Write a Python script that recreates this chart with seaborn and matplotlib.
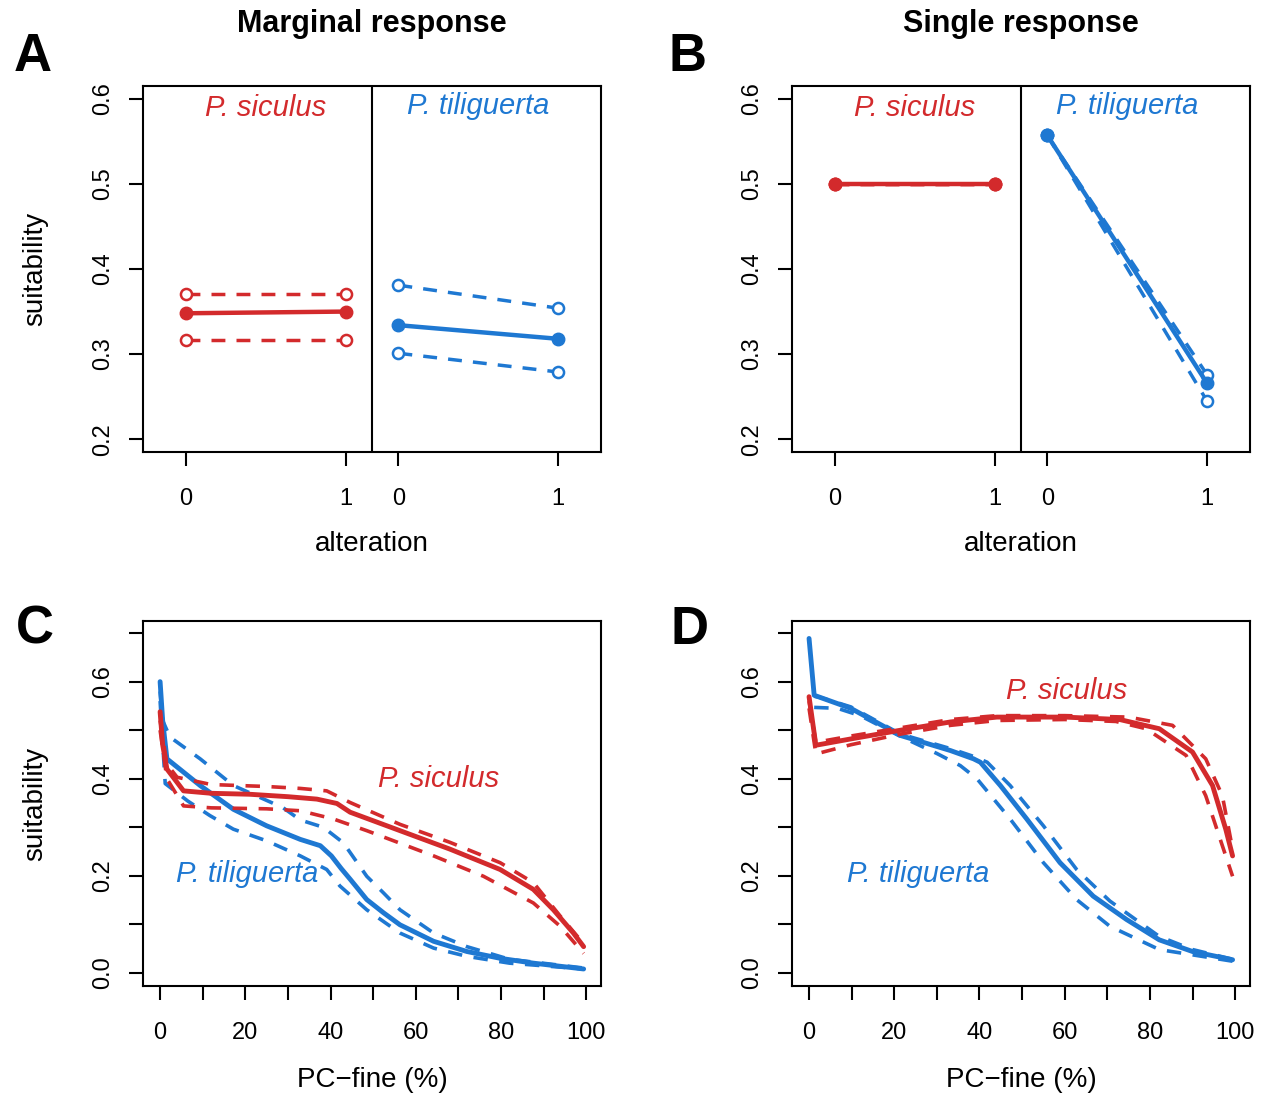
import numpy as np
import pandas as pd
import matplotlib
matplotlib.use('Agg')
import matplotlib.pyplot as plt
import seaborn as sns

sns.set_style('ticks')
plt.rcParams['font.family'] = ['Liberation Sans', 'DejaVu Sans']
plt.rcParams['text.color'] = 'black'
plt.rcParams['axes.labelcolor'] = 'black'
plt.rcParams['xtick.color'] = 'black'
plt.rcParams['ytick.color'] = 'black'

RED = '#D32A2C'
BLUE = '#1E78D2'
species = ['P. siculus', 'P. tiliguerta']
palette = {'P. siculus': RED, 'P. tiliguerta': BLUE}

# ---- panels A / B : alteration 0 -> 1 ----
alteration = [0, 1]
marg_sic_mean = [0.348, 0.350]
marg_sic_upper = [0.371, 0.371]
marg_sic_lower = [0.317, 0.317]
marg_til_mean = [0.334, 0.318]
marg_til_upper = [0.381, 0.354]
marg_til_lower = [0.301, 0.279]

single_sic_mean = [0.500, 0.500]
single_sic_upper = [0.500, 0.500]
single_sic_lower = [0.500, 0.500]
single_til_mean = [0.557, 0.266]
single_til_upper = [0.557, 0.276]
single_til_lower = [0.557, 0.245]

alt_ticks = [0, 1, 0, 1]
suit_ticks_ab = [0.2, 0.3, 0.4, 0.5, 0.6]

# ---- panel C : marginal response vs PC-fine ----
c_sic_mean_x = [0, 0.6, 1.6, 5.5, 12, 21, 30, 36.8, 41.5, 44.6, 56.3, 68, 79.8, 87.6, 92.3, 97, 99.4]
c_sic_mean_y = [0.538, 0.47, 0.420, 0.375, 0.370, 0.368, 0.363, 0.358, 0.349, 0.331, 0.293, 0.255, 0.213, 0.172, 0.130, 0.082, 0.054]
c_sic_upper_x = [0, 1.6, 4, 12, 25, 32.9, 39.1, 44.6, 56.3, 68, 79.8, 87.6, 93.9, 99.4]
c_sic_upper_y = [0.52, 0.43, 0.403, 0.388, 0.384, 0.380, 0.375, 0.351, 0.306, 0.269, 0.227, 0.186, 0.117, 0.060]
c_sic_lower_x = [0, 1.6, 5.5, 12, 25, 32.9, 40.7, 48.5, 64.2, 75.9, 87.6, 93.9, 99.4]
c_sic_lower_y = [0.50, 0.40, 0.344, 0.340, 0.338, 0.334, 0.317, 0.293, 0.241, 0.199, 0.144, 0.096, 0.040]

c_til_mean_x = [0, 0.6, 1.6, 9.4, 17.2, 25, 32.9, 37.6, 40.2, 42.5, 44.6, 48.5, 52.4, 56.3, 64.2, 72, 79.8, 87.6, 99.4]
c_til_mean_y = [0.60, 0.52, 0.441, 0.386, 0.337, 0.303, 0.275, 0.262, 0.241, 0.215, 0.193, 0.151, 0.124, 0.099, 0.065, 0.044, 0.030, 0.020, 0.008]
c_til_upper_x = [0, 0.6, 2.3, 9.4, 17.2, 28.9, 32.9, 38.3, 43, 48.5, 52.4, 56.3, 64.2, 72, 82, 99.4]
c_til_upper_y = [0.58, 0.52, 0.486, 0.441, 0.386, 0.340, 0.315, 0.300, 0.268, 0.199, 0.165, 0.130, 0.082, 0.054, 0.028, 0.010]
c_til_lower_x = [0, 1.2, 6.5, 11.7, 17.2, 25, 32.9, 39.1, 42.2, 48.5, 56.3, 64.2, 72, 82, 99.4]
c_til_lower_y = [0.56, 0.39, 0.354, 0.324, 0.296, 0.272, 0.241, 0.213, 0.179, 0.130, 0.082, 0.051, 0.034, 0.020, 0.008]

# ---- panel D : single response vs PC-fine ----
d_sic_mean_x = [0, 1.6, 9.8, 21.5, 33.2, 44.1, 60, 72.9, 82.2, 90, 94.7, 97.8, 99.4]
d_sic_mean_y = [0.569, 0.469, 0.482, 0.500, 0.517, 0.527, 0.527, 0.522, 0.503, 0.455, 0.386, 0.296, 0.241]
d_sic_upper_x = [0, 1.6, 9.8, 21.5, 33.2, 44.1, 60, 75, 85.3, 93.1, 97, 99.4]
d_sic_upper_y = [0.560, 0.475, 0.488, 0.505, 0.522, 0.530, 0.530, 0.527, 0.510, 0.441, 0.365, 0.255]
d_sic_lower_x = [0, 1.6, 9.8, 21.5, 33.2, 44.1, 60, 72, 79.1, 88.5, 93.1, 97, 99.4]
d_sic_lower_y = [0.545, 0.451, 0.470, 0.492, 0.510, 0.520, 0.522, 0.518, 0.503, 0.448, 0.365, 0.262, 0.199]

d_til_mean_x = [0, 1.2, 9.8, 21.5, 33.2, 38.6, 40.2, 44.9, 51.1, 58.9, 66.7, 74.5, 82.2, 90, 99.4]
d_til_mean_y = [0.689, 0.572, 0.545, 0.489, 0.458, 0.441, 0.434, 0.386, 0.317, 0.227, 0.158, 0.110, 0.068, 0.044, 0.027]
d_til_upper_x = [1.2, 2.8, 9.8, 21.5, 33.2, 38.6, 41.8, 47.2, 55, 62.8, 70.6, 82.2, 90, 99.4]
d_til_upper_y = [0.570, 0.567, 0.548, 0.492, 0.462, 0.446, 0.434, 0.386, 0.303, 0.213, 0.148, 0.075, 0.048, 0.028]
d_til_lower_x = [1.2, 6.7, 12, 21.5, 30, 35.5, 39.4, 47.2, 55, 62.8, 70.6, 82.2, 99.4]
d_til_lower_y = [0.547, 0.545, 0.530, 0.487, 0.452, 0.427, 0.400, 0.317, 0.227, 0.151, 0.096, 0.048, 0.024]

pc_ticks = list(range(0, 101, 10))
pc_labels = [str(t) if t % 20 == 0 else '' for t in pc_ticks]
suit_ticks_cd = [0.0, 0.1, 0.2, 0.3, 0.4, 0.5, 0.6, 0.7]
suit_labels_cd = ['0.0', '', '0.2', '', '0.4', '', '0.6', '']


def long_table(parts):
    rows = []
    for sp, kind, xs, ys in parts:
        for x, y in zip(xs, ys):
            rows.append({'species': sp, 'kind': kind, 'x': x, 'y': y})
    return pd.DataFrame(rows)


GROUP_GAP = 1.33  # second species block shifted right on the alteration axis

ab_A = long_table([
    ('P. siculus', 'mean', alteration, marg_sic_mean),
    ('P. siculus', 'upper', alteration, marg_sic_upper),
    ('P. siculus', 'lower', alteration, marg_sic_lower),
    ('P. tiliguerta', 'mean', alteration, marg_til_mean),
    ('P. tiliguerta', 'upper', alteration, marg_til_upper),
    ('P. tiliguerta', 'lower', alteration, marg_til_lower),
])
ab_B = long_table([
    ('P. siculus', 'mean', alteration, single_sic_mean),
    ('P. siculus', 'upper', alteration, single_sic_upper),
    ('P. siculus', 'lower', alteration, single_sic_lower),
    ('P. tiliguerta', 'mean', alteration, single_til_mean),
    ('P. tiliguerta', 'upper', alteration, single_til_upper),
    ('P. tiliguerta', 'lower', alteration, single_til_lower),
])
for d in (ab_A, ab_B):
    d['pos'] = d['x'] + np.where(d['species'] == 'P. tiliguerta', GROUP_GAP, 0)

cd_C = long_table([
    ('P. tiliguerta', 'mean', c_til_mean_x, c_til_mean_y),
    ('P. tiliguerta', 'upper', c_til_upper_x, c_til_upper_y),
    ('P. tiliguerta', 'lower', c_til_lower_x, c_til_lower_y),
    ('P. siculus', 'mean', c_sic_mean_x, c_sic_mean_y),
    ('P. siculus', 'upper', c_sic_upper_x, c_sic_upper_y),
    ('P. siculus', 'lower', c_sic_lower_x, c_sic_lower_y),
])
cd_D = long_table([
    ('P. tiliguerta', 'mean', d_til_mean_x, d_til_mean_y),
    ('P. tiliguerta', 'upper', d_til_upper_x, d_til_upper_y),
    ('P. tiliguerta', 'lower', d_til_lower_x, d_til_lower_y),
    ('P. siculus', 'mean', d_sic_mean_x, d_sic_mean_y),
    ('P. siculus', 'upper', d_sic_upper_x, d_sic_upper_y),
    ('P. siculus', 'lower', d_sic_lower_x, d_sic_lower_y),
])

fig = plt.figure(figsize=(12.66, 10.96), dpi=100)
axA = fig.add_axes([0.1130, 0.5876, 0.3618, 0.3339])
axB = fig.add_axes([0.6256, 0.5876, 0.3618, 0.3339])
axC = fig.add_axes([0.1130, 0.1004, 0.3618, 0.3330])
axD = fig.add_axes([0.6256, 0.1004, 0.3618, 0.3330])


def style_axes(ax):
    for s in ax.spines.values():
        s.set_visible(True)
        s.set_linewidth(1.5)
        s.set_color('black')
    ax.tick_params(direction='out', length=10, width=1.5, labelsize=17, colors='black')
    ax.tick_params(axis='x', pad=16)
    ax.tick_params(axis='y', pad=11)
    for lab in ax.get_yticklabels():
        lab.set_rotation(90)
        lab.set_va('center')


def draw_alteration(ax, d, ylabel_on):
    for sp in species:
        for kind in ['upper', 'lower', 'mean']:
            sub = d[(d['species'] == sp) & (d['kind'] == kind)]
            c = palette[sp]
            if kind == 'mean':
                sns.lineplot(data=sub, x='pos', y='y', ax=ax, color=c, lw=3.2,
                             marker='o', markersize=9, markerfacecolor=c,
                             markeredgecolor=c, markeredgewidth=1, zorder=4)
            else:
                sns.lineplot(data=sub, x='pos', y='y', ax=ax, color=c, lw=2.5,
                             linestyle=(0, (4, 3.2)), marker='o', markersize=8,
                             markerfacecolor='white', markeredgecolor=c,
                             markeredgewidth=1.8, zorder=3)
    ax.axvline((1 + GROUP_GAP) / 2, color='black', lw=1.5)
    ax.set_xlim(-0.27, 1 + GROUP_GAP + 0.27)
    ax.set_ylim(0.185, 0.615)
    ax.set_xticks([0, 1, GROUP_GAP, 1 + GROUP_GAP])
    ax.set_xticklabels([str(t) for t in alt_ticks])
    ax.set_yticks(suit_ticks_ab)
    ax.set_yticklabels([f'{t:.1f}' for t in suit_ticks_ab])
    ax.text(0.5, 0.589, 'P. siculus', color=RED, style='italic', fontsize=21,
            ha='center', va='center')
    ax.text(0.5 + GROUP_GAP, 0.592, 'P. tiliguerta', color=BLUE, style='italic',
            fontsize=21, ha='center', va='center')
    style_axes(ax)
    ax.set_xlabel('alteration', fontsize=20)
    ax.xaxis.set_label_coords(0.5, -0.251)
    ax.xaxis.label.set_va('center')
    if ylabel_on:
        ax.set_ylabel('suitability', fontsize=20)
        ax.yaxis.set_label_coords(-0.236, 0.5)
        ax.yaxis.label.set_va('center')
    else:
        ax.set_ylabel('')


def draw_curves(ax, d, ylabel_on, sic_pos, til_pos):
    sns.lineplot(data=d, x='x', y='y', hue='species', style='kind', size='kind',
                 hue_order=['P. tiliguerta', 'P. siculus'], palette=palette,
                 dashes={'mean': '', 'upper': (4, 3.2), 'lower': (4, 3.2)},
                 sizes={'mean': 3.5, 'upper': 2.6, 'lower': 2.6},
                 estimator=None, sort=True, legend=False, ax=ax)
    ax.set_xlim(-4, 103.5)
    ax.set_ylim(-0.027, 0.725)
    ax.set_xticks(pc_ticks)
    ax.set_xticklabels(pc_labels)
    ax.set_yticks(suit_ticks_cd)
    ax.set_yticklabels(suit_labels_cd)
    ax.text(*sic_pos, 'P. siculus', color=RED, style='italic', fontsize=21,
            ha='center', va='center')
    ax.text(*til_pos, 'P. tiliguerta', color=BLUE, style='italic', fontsize=21,
            ha='center', va='center')
    style_axes(ax)
    ax.set_xlabel('PC\u2212fine (%)', fontsize=20)
    ax.xaxis.set_label_coords(0.5, -0.2575)
    ax.xaxis.label.set_va('center')
    if ylabel_on:
        ax.set_ylabel('suitability', fontsize=20)
        ax.yaxis.set_label_coords(-0.236, 0.5)
        ax.yaxis.label.set_va('center')
    else:
        ax.set_ylabel('')


draw_alteration(axA, ab_A, True)
draw_alteration(axB, ab_B, False)
draw_curves(axC, cd_C, True, (65.3, 0.40), (20.4, 0.203))
draw_curves(axD, cd_D, False, (60.5, 0.58), (25.7, 0.203))

fig.text(372 / 1266, 1 - 24 / 1096, 'Marginal response', fontsize=22,
         fontweight='bold', ha='center', va='center')
fig.text(1021 / 1266, 1 - 24 / 1096, 'Single response', fontsize=22,
         fontweight='bold', ha='center', va='center')
for letter, px, py in [('A', 33, 57), ('B', 688, 57), ('C', 35, 630), ('D', 690, 630)]:
    fig.text(px / 1266, 1 - py / 1096, letter, fontsize=38, fontweight='bold',
             ha='center', va='center')

fig.savefig('out.png', dpi=100, facecolor='white')
